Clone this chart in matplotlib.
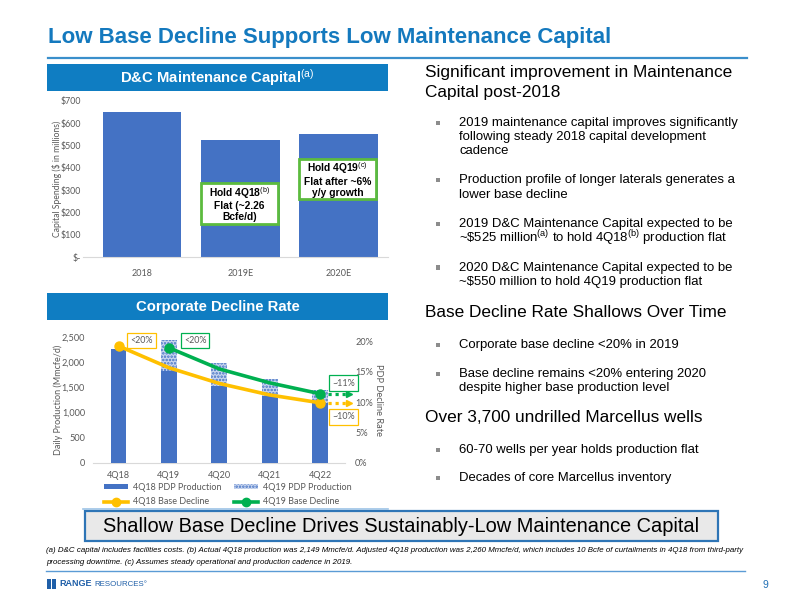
import numpy as np
import matplotlib
matplotlib.use('Agg')
import matplotlib.pyplot as plt
from matplotlib.patches import Rectangle, Patch
from matplotlib.lines import Line2D

plt.rcParams['font.family'] = ['Liberation Sans', 'DejaVu Sans']
plt.rcParams['mathtext.fontset'] = 'custom'
plt.rcParams['mathtext.rm'] = 'Liberation Sans'
plt.rcParams['mathtext.it'] = 'Liberation Sans:italic'
plt.rcParams['mathtext.bf'] = 'Liberation Sans:bold'
plt.rcParams['hatch.linewidth'] = 1.2

# ---------------- data ----------------
years = ['2018', '2019E', '2020E']
capex = [650, 525, 550]
capex_ticks = [0, 100, 200, 300, 400, 500, 600, 700]
capex_tick_labels = ['$-', '$100', '$200', '$300', '$400', '$500', '$600', '$700']

quarters = ['4Q18', '4Q19', '4Q20', '4Q21', '4Q22']
pdp_4q18 = [2260, 1820, 1530, 1330, 1190]
pdp_4q19 = [np.nan, 2430, 1980, 1670, 1450]
decline_4q18 = [19.3, 15.7, 13.1, 11.2, 9.9]
decline_4q19 = [np.nan, 19.0, 15.5, 13.2, 11.4]
prod_ticks = [0, 500, 1000, 1500, 2000, 2500]
prod_tick_labels = ['0', '500', '1,000', '1,500', '2,000', '2,500']
rate_ticks = [0, 5, 10, 15, 20]
rate_tick_labels = ['0%', '5%', '10%', '15%', '20%']

# ---------------- helpers ----------------
W, H = 800, 600
fig = plt.figure(figsize=(8, 6), dpi=100)

def fx(px):
    return px / W

def fy(py):
    return 1 - py / H

def rect(l, t, r, b):
    return [l / W, 1 - b / H, (r - l) / W, (b - t) / H]

BLUE = '#1479BE'
HDR = '#0F7DC2'
BAR = '#4472C4'
GRAY = '#595959'
ORANGE = '#FFC000'
GREEN = '#00B050'
BOXGREEN = '#5CBB3E'
CHARTFONT = ['Lato', 'Liberation Sans', 'DejaVu Sans']

# ---------------- title ----------------
fig.text(fx(48), fy(43), 'Low Base Decline Supports Low Maintenance Capital',
         fontsize=16, fontweight='bold', color=BLUE, va='baseline')
fig.add_artist(Line2D([fx(48), fx(747)], [fy(58), fy(58)], color='#3A8FCB', lw=1.6))

# ---------------- header boxes ----------------
for top, bot, label in [(64, 90.5, r'D&C Maintenance Capital$^{\rm (a)}$'),
                        (293, 320, 'Corporate Decline Rate')]:
    fig.add_artist(Rectangle((fx(47), fy(bot)), (388 - 47) / W, (bot - top) / H,
                             facecolor=HDR, edgecolor='none', transform=fig.transFigure))
    fig.text(fx(217.5), fy((top + bot) / 2), label, ha='center', va='center',
             color='white', fontsize=10.7, fontweight='bold')

# ---------------- top chart ----------------
ax1 = fig.add_axes(rect(83, 100.7, 388, 257))
x3 = np.arange(len(years))
ax1.bar(x3, capex, width=0.8, color=BAR, zorder=2)
ax1.set_xlim(-0.6, 2.5)
ax1.set_ylim(0, 700)
ax1.set_yticks(capex_ticks)
ax1.set_yticklabels(capex_tick_labels)
ax1.set_xticks(x3)
ax1.set_xticklabels(years)
for s in ['top', 'right', 'left']:
    ax1.spines[s].set_visible(False)
ax1.spines['bottom'].set_color('#D9D9D9')
ax1.tick_params(axis='y', length=0, labelsize=6.3, colors=GRAY, pad=1.5)
ax1.tick_params(axis='x', length=0, labelsize=6.5, colors=GRAY, pad=9)
for t in ax1.get_xticklabels() + ax1.get_yticklabels():
    t.set_family(CHARTFONT)
ax1.set_ylabel('Capital Spending ($ in millions)', fontsize=6.2, color=GRAY, family=CHARTFONT)
ax1.yaxis.set_label_coords((62 - 83) / 305, 0.5)

# annotation boxes on bars
boxes = [(1, 148, 331, 'Hold 4Q18$^{\\rm (b)}$\nFlat (~2.26\nBcfe/d)'),
         (2, 260, 439, 'Hold 4Q19$^{\\rm (c)}$\nFlat after ~6%\ny/y growth')]
for xi, y0, y1, txt in boxes:
    ax1.add_patch(Rectangle((x3[xi] - 0.4, y0), 0.78, y1 - y0, facecolor='white',
                            edgecolor=BOXGREEN, lw=2, zorder=3))
    ax1.text(x3[xi] - 0.01, (y0 + y1) / 2, txt, ha='center', va='center', fontsize=7.4,
             fontweight='bold', color='black', zorder=4, linespacing=1.1)

# ---------------- bottom chart ----------------
ax2 = fig.add_axes(rect(93.3, 336.7, 345.3, 462.7))
x5 = np.arange(len(quarters))
ax2.bar(x5, pdp_4q19, width=0.31, facecolor='#C9D6EF', edgecolor=BAR, hatch='.....',
        lw=0, zorder=2)
ax2.bar(x5, pdp_4q18, width=0.31, color=BAR, zorder=3)
ax2.set_xlim(-0.5, 4.5)
ax2.set_ylim(0, 2500)
ax2.set_yticks(prod_ticks)
ax2.set_yticklabels(prod_tick_labels)
ax2.set_xticks(x5)
ax2.set_xticklabels(quarters)
for s in ['top', 'right', 'left']:
    ax2.spines[s].set_visible(False)
ax2.spines['bottom'].set_color('#D9D9D9')
ax2.tick_params(length=0, labelsize=6.6, colors=GRAY, pad=6)
ax2.set_ylabel('Daily Production (Mmcfe/d)', fontsize=6.5, color=GRAY, family=CHARTFONT)
ax2.yaxis.set_label_coords((63 - 93.3) / 252, 0.5)

ax2r = ax2.twinx()
ax2r.set_ylim(0, 20.83)
ax2r.set_yticks(rate_ticks)
ax2r.set_yticklabels(rate_tick_labels)
for s in ['top', 'right', 'left', 'bottom']:
    ax2r.spines[s].set_visible(False)
ax2r.tick_params(length=0, labelsize=6.6, colors=GRAY, pad=7)
ax2r.set_ylabel('PDP Decline Rate', fontsize=6.7, color=GRAY, rotation=-90, family=CHARTFONT)
ax2r.yaxis.set_label_coords((383 - 93.3) / 252, 0.5)
for t in (ax2.get_xticklabels() + ax2.get_yticklabels() + ax2r.get_yticklabels()):
    t.set_family(CHARTFONT)

d18 = np.array(decline_4q18)
d19 = np.array(decline_4q19)
m19 = ~np.isnan(d19)
ax2r.plot(x5, d18, color=ORANGE, lw=2.6, marker='o', ms=6.5, markevery=[0, len(d18) - 1],
          zorder=4, solid_capstyle='round')
ax2r.plot(x5[m19], d19[m19], color=GREEN, lw=2.6, marker='o', ms=6.5,
          markevery=[0, int(m19.sum()) - 1], zorder=5, solid_capstyle='round')

# dotted extension arrows
for vals, col in [(d19[m19], GREEN), (d18, ORANGE)]:
    yv = vals[-1]
    ax2r.plot([x5[-1] + 0.15, x5[-1] + 0.55], [yv, yv], color=col, lw=2.3, ls=(0, (1, 1.2)),
              clip_on=False, zorder=4)
    ax2r.plot([x5[-1] + 0.57], [yv], marker='>', ms=5, color=col, clip_on=False, zorder=4)

# label boxes
labels = [(0.46, 2425, '<20%', ORANGE), (1.52, 2425, '<20%', GREEN),
          (4.47, 1581, '~11%', GREEN), (4.47, 907, '~10%', ORANGE)]
for lx, ly, txt, col in labels:
    ax2.text(lx, ly, txt, ha='center', va='center', fontsize=6.4, color=GRAY, family=CHARTFONT,
             zorder=6, clip_on=False,
             bbox=dict(boxstyle='square,pad=0.35', fc='white', ec=col, lw=0.9))

# legend
handles = [Patch(facecolor=BAR, edgecolor='none'),
           Line2D([0], [0], color=ORANGE, lw=2.6, marker='o', ms=6),
           Patch(facecolor='#C9D6EF', edgecolor=BAR, hatch='.....', lw=0),
           Line2D([0], [0], color=GREEN, lw=2.6, marker='o', ms=6)]
leg_labels = ['4Q18 PDP Production', '4Q18 Base Decline',
              '4Q19 PDP Production', '4Q19 Base Decline']
leg = fig.legend(handles, leg_labels, ncol=2, loc='upper left',
                 bbox_to_anchor=(fx(104), fy(483)), frameon=False,
                 prop={'family': CHARTFONT, 'size': 6.5}, handlelength=2.7, handleheight=0.45,
                 columnspacing=1.4, labelspacing=0.6, handletextpad=0.5, labelcolor=GRAY,
                 borderaxespad=0, borderpad=0)
fig.add_artist(Line2D([fx(83), fx(388)], [fy(509), fy(509)], color='#9DC3E6', lw=1.2))

# ---------------- right side text ----------------
HS = 12.4
BS = 9.45
TX = 425
BX = 459
headers = [(73, 'Significant improvement in Maintenance'),
           (92, 'Capital post-2018'),
           (313, 'Base Decline Rate Shallows Over Time'),
           (418, 'Over 3,700 undrilled Marcellus wells')]
for yy, t in headers:
    fig.text(fx(TX), fy(yy), t, fontsize=HS, color='black', va='center')

bullets = [
    [(122.7, '2019 maintenance capital improves significantly'),
     (137.3, 'following steady 2018 capital development'),
     (151.5, 'cadence')],
    [(180, 'Production profile of longer laterals generates a'),
     (195, 'lower base decline')],
    [(224, '2019 D&C Maintenance Capital expected to be'),
     (238.5, r'~\$525 million$^{\rm (a)}$ to hold 4Q18$^{\rm (b)}$ production flat')],
    [(267.5, '2020 D&C Maintenance Capital expected to be'),
     (282.5, '~$550 million to hold 4Q19 production flat')],
    [(345, 'Corporate base decline <20% in 2019')],
    [(374, 'Base decline remains <20% entering 2020'),
     (388.5, 'despite higher base production level')],
    [(450, '60-70 wells per year holds production flat')],
    [(478, 'Decades of core Marcellus inventory')],
]
for group in bullets:
    y0 = group[0][0]
    fig.add_artist(Rectangle((fx(435.5), fy(y0 + 2.2)), 4.4 / W, 4.4 / H, facecolor='#8C8C8C',
                             edgecolor='none', transform=fig.transFigure))
    for yy, t in group:
        fig.text(fx(BX), fy(yy), t, fontsize=BS, color='black', va='center')

# ---------------- bottom callout ----------------
fig.add_artist(Rectangle((fx(85), fy(541)), (718 - 85) / W, 30 / H, facecolor='#E9E9E9',
                         edgecolor='#2E75B6', lw=1.6, transform=fig.transFigure))
fig.text(fx(401.5), fy(527), 'Shallow Base Decline Drives Sustainably-Low Maintenance Capital',
         fontsize=14.4, ha='center', va='center', color='black')

# footnotes
fig.text(fx(46), fy(551),
         '(a) D&C capital includes facilities costs. (b) Actual 4Q18 production was 2,149 Mmcfe/d. '
         'Adjusted 4Q18 production was 2,260 Mmcfe/d, which includes 10 Bcfe of curtailments in 4Q18 '
         'from third-party', fontsize=5.64, style='italic', va='center', color='black')
fig.text(fx(46), fy(562),
         'processing downtime. (c) Assumes steady operational and production cadence in 2019.',
         fontsize=5.64, style='italic', va='center', color='black')
fig.add_artist(Line2D([fx(46), fx(745)], [fy(571), fy(571)], color='#5B9BD5', lw=1.0))

# logo
LOGO = '#1F5FA8'
fig.add_artist(Rectangle((fx(47), fy(589)), 3.5 / W, 10 / H, facecolor=LOGO, edgecolor='none',
                         transform=fig.transFigure))
fig.add_artist(Rectangle((fx(51.5), fy(589)), 4.5 / W, 10 / H, facecolor=LOGO, edgecolor='none',
                         transform=fig.transFigure))
fig.text(fx(59), fy(584), 'RANGE', fontsize=6.5, fontweight='bold', color=LOGO, va='center')
fig.text(fx(94.5), fy(584), 'RESOURCES\u00b0', fontsize=5.7, color=LOGO, va='center')
fig.text(fx(768), fy(585), '9', fontsize=7.5, color='#1F6FB5', ha='right', va='center')

fig.savefig('out.png', dpi=100)
